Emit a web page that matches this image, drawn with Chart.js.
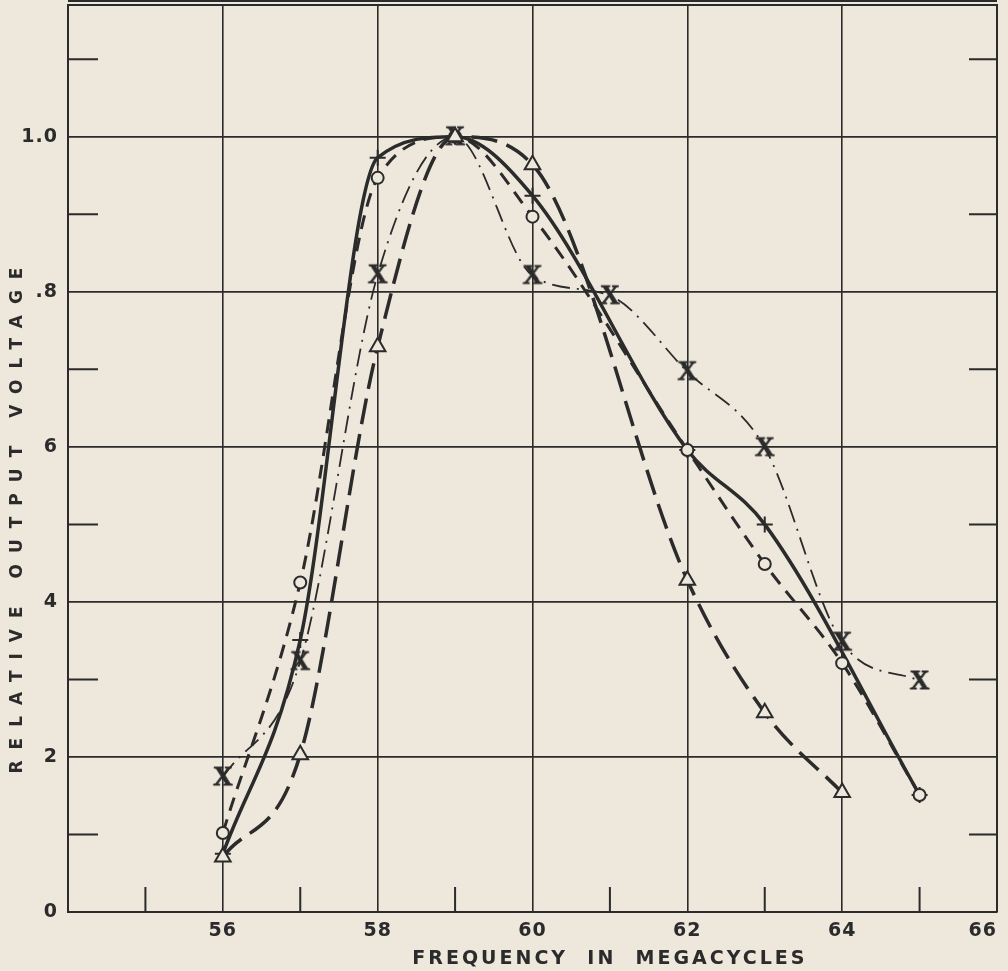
<!DOCTYPE html>
<html>
<head>
<meta charset="utf-8">
<script src="https://cdn.jsdelivr.net/npm/chart.js@4.4.1/dist/chart.umd.min.js"></script>
<style>
  html, body { margin: 0; padding: 0; background: #ede7dc; }
</style>
</head>
<body>
<canvas id="myChart" width="1008" height="971"></canvas>
<script>
// frequency in megacycles
const freqs = [56, 57, 58, 59, 60, 61, 62, 63, 64, 65];
// relative output voltage, one list per curve (null = no point there)
const triangleVals = [0.071, 0.203, 0.729, 1.0, 0.964, null, 0.428, 0.257, 0.154, null];
const circleVals   = [0.102, 0.425, 0.947, 1.0, 0.897, null, 0.596, 0.449, 0.321, 0.151];
const plusVals     = [0.075, 0.351, 0.973, 1.0, 0.924, null, 0.596, 0.500, null, 0.151];
const crossVals    = [0.174, 0.323, 0.822, 1.0, 0.821, 0.795, 0.697, 0.599, 0.348, 0.298];

// ticks
const xTicks = [54, 55, 56, 57, 58, 59, 60, 61, 62, 63, 64, 65, 66];
const xTickLabels = ['', '', '56', '', '58', '', '60', '', '62', '', '64', '', '66'];
const yTicks = [0, 0.1, 0.2, 0.3, 0.4, 0.5, 0.6, 0.7, 0.8, 0.9, 1.0, 1.1];
const yTickLabels = ['0', '', '2', '', '4', '', '6', '', '.8', '', '1.0', ''];

const xTitle = 'FREQUENCY  IN  MEGACYCLES';
const yTitle = 'RELATIVE OUTPUT VOLTAGE';

const ink = '#2b2b2b';
const paper = '#ede7dc';

function toPoints(vals) {
  return freqs.map((f, i) => ({ x: f, y: vals[i] })).filter(p => p.y !== null);
}

// serif "X" marker
function makeXMark() {
  const c = document.createElement('canvas');
  c.width = 24; c.height = 24;
  const g = c.getContext('2d');
  g.fillStyle = ink;
  g.strokeStyle = ink;
  g.lineWidth = 0.8;
  g.font = 'bold 27px "Liberation Serif"';
  g.textAlign = 'center';
  g.textBaseline = 'middle';
  g.fillText('X', 12, 13);
  g.strokeText('X', 12, 13);
  return c;
}

const paperBg = {
  id: 'paperBg',
  beforeDraw(chart) {
    const ctx = chart.ctx;
    ctx.save();
    ctx.fillStyle = paper;
    ctx.fillRect(0, 0, chart.width, chart.height);
    ctx.restore();
    ctx.letterSpacing = '1px';
  }
};

// frame, double top rule and the short ticks on the edges
const frameTicks = {
  id: 'frameTicks',
  beforeDatasetsDraw(chart) {
    const ctx = chart.ctx, a = chart.chartArea;
    const xs = chart.scales.x, ys = chart.scales.y;
    ctx.save();
    ctx.strokeStyle = ink;
    ctx.lineWidth = 2;
    ctx.beginPath();
    ctx.moveTo(a.left, a.top); ctx.lineTo(a.right, a.top); ctx.lineTo(a.right, a.bottom);
    ctx.moveTo(a.left, 1); ctx.lineTo(a.right, 1);
    yTicks.forEach((v, i) => {
      if (yTickLabels[i] !== '') return;
      const py = ys.getPixelForValue(v);
      ctx.moveTo(a.left, py); ctx.lineTo(a.left + 30, py);
      ctx.moveTo(a.right - 28, py); ctx.lineTo(a.right, py);
    });
    xTicks.forEach((v, i) => {
      if (v % 2 === 0) return;
      const px = xs.getPixelForValue(v);
      ctx.moveTo(px, a.bottom); ctx.lineTo(px, a.bottom - 25);
    });
    ctx.stroke();
    ctx.restore();
  }
};

const axisTitles = {
  id: 'axisTitles',
  afterDraw(chart) {
    const ctx = chart.ctx;
    ctx.save();
    ctx.fillStyle = ink;
    ctx.textAlign = 'center';
    ctx.textBaseline = 'middle';
    ctx.font = 'bold 19px "DejaVu Sans"';
    ctx.letterSpacing = '3px';
    ctx.fillText(xTitle, chart.scales.x.getPixelForValue(61), 959);
    ctx.translate(18, 515);
    ctx.rotate(-Math.PI / 2);
    ctx.font = 'bold 17px "DejaVu Sans"';
    ctx.letterSpacing = '11px';
    ctx.fillText(yTitle, 0, 0);
    ctx.restore();
  }
};

const ctx = document.getElementById('myChart').getContext('2d');
new Chart(ctx, {
  type: 'line',
  data: {
    datasets: [
      {
        label: 'triangle',
        data: toPoints(triangleVals),
        borderColor: ink, borderWidth: 3.5, borderDash: [26, 10],
        pointStyle: 'triangle', pointRadius: 9, pointBorderWidth: 2,
        pointBorderColor: ink, pointBackgroundColor: paper
      },
      {
        label: 'circle',
        data: toPoints(circleVals),
        borderColor: ink, borderWidth: 3, borderDash: [14, 9],
        pointStyle: 'circle', pointRadius: 6, pointBorderWidth: 2,
        pointBorderColor: ink, pointBackgroundColor: paper
      },
      {
        label: 'plus',
        data: toPoints(plusVals),
        borderColor: ink, borderWidth: 3.5,
        pointStyle: 'cross', pointRadius: 8, pointBorderWidth: 2,
        pointBorderColor: ink
      },
      {
        label: 'x',
        data: toPoints(crossVals),
        borderColor: ink, borderWidth: 1.8, borderDash: [18, 7, 2, 7],
        pointStyle: makeXMark(), pointRadius: 10
      }
    ]
  },
  options: {
    responsive: false,
    animation: false,
    events: [],
    layout: { autoPadding: false, padding: { top: 5, right: 11, left: 0, bottom: 0 } },
    elements: { line: { cubicInterpolationMode: 'monotone', fill: false } },
    plugins: { legend: { display: false }, tooltip: { enabled: false } },
    scales: {
      x: {
        type: 'linear', min: 54, max: 66,
        afterBuildTicks: s => { s.ticks = xTicks.map(v => ({ value: v })); },
        afterFit: s => { s.height = 59; s.paddingLeft = 0; s.paddingRight = 0; },
        grid: {
          drawTicks: false, lineWidth: 1.6,
          color: c => (c.tick && c.tick.value % 2 === 0 && c.tick.value > 54 && c.tick.value < 66) ? ink : 'rgba(0,0,0,0)'
        },
        border: { color: ink, width: 2 },
        ticks: {
          color: ink, padding: 8, align: 'inner', maxRotation: 0, autoSkip: false,
          font: { family: 'DejaVu Sans', size: 19, weight: 'bold' },
          callback: (v, i) => xTickLabels[i]
        }
      },
      y: {
        type: 'linear', min: 0, max: 1.17,
        afterBuildTicks: s => { s.ticks = yTicks.map(v => ({ value: v })); },
        afterFit: s => { s.width = 68; s.paddingTop = 0; s.paddingBottom = 0; },
        grid: {
          drawTicks: false, lineWidth: 1.8,
          color: c => (c.tick && yTickLabels[c.index] !== '' && c.index > 0) ? ink : 'rgba(0,0,0,0)'
        },
        border: { color: ink, width: 2 },
        ticks: {
          color: ink, padding: 10, autoSkip: false,
          font: { family: 'DejaVu Sans', size: 19, weight: 'bold' },
          callback: (v, i) => yTickLabels[i]
        }
      }
    }
  },
  plugins: [paperBg, frameTicks, axisTitles]
});
</script>
</body>
</html>
